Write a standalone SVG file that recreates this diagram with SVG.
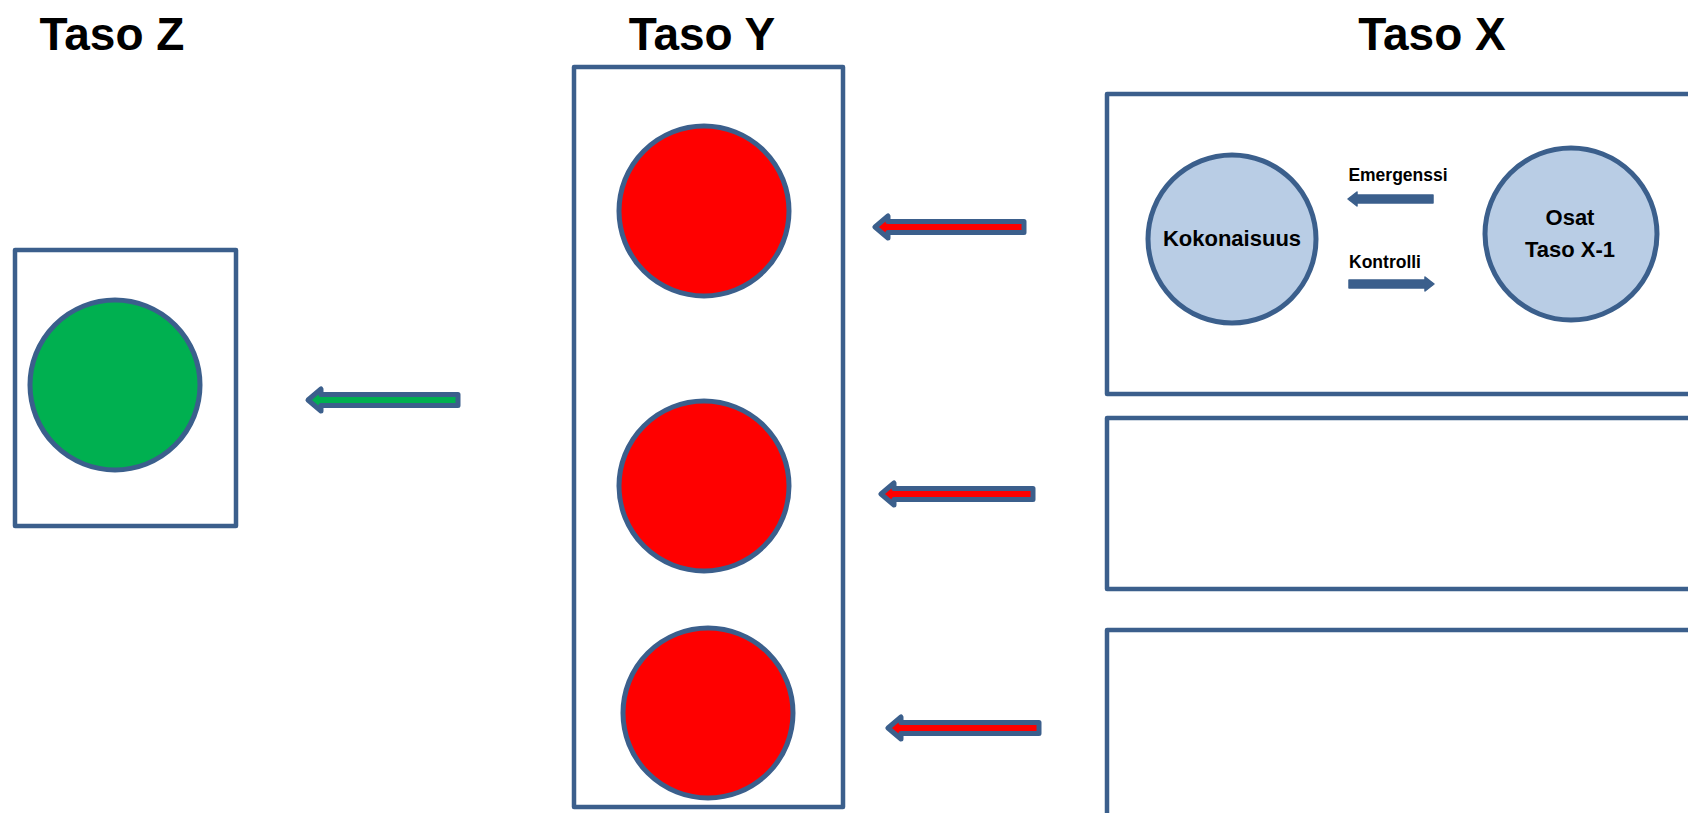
<svg xmlns="http://www.w3.org/2000/svg" width="1688" height="813" viewBox="0 0 1688 813">
<style>
.frame{fill:#fff;stroke:#3B5F8C;stroke-width:4.5;stroke-linejoin:round}
.title{font-family:"Liberation Sans",Arial,sans-serif;font-weight:bold;font-size:46px;fill:#000;text-anchor:middle}
.lbl{font-family:"Liberation Sans",Arial,sans-serif;font-weight:bold;fill:#000;text-anchor:middle}
.red{fill:#FF0000;stroke:#3B5F8C;stroke-width:5}
.green{fill:#00B050;stroke:#3B5F8C;stroke-width:5}
.light{fill:#B9CDE5;stroke:#3B5F8C;stroke-width:5}
.barR{fill:#FF0000;stroke:#3B5F8C;stroke-width:5;stroke-linejoin:round}
.barG{fill:#00B050;stroke:#3B5F8C;stroke-width:5;stroke-linejoin:round}
.small{fill:#3B5F8C;stroke:#3B5F8C;stroke-width:1.5;stroke-linejoin:round}
</style>
<rect width="1688" height="813" fill="#fff"/>
<text class="title" x="112" y="50">Taso Z</text>
<text class="title" x="702" y="50">Taso Y</text>
<text class="title" x="1432" y="50">Taso X</text>

<g id="tasoZ">
<rect class="frame" x="15" y="250" width="221" height="276"/>
<circle class="green" cx="115" cy="385" r="85"/>
</g>

<g id="tasoY">
<rect class="frame" x="574" y="67" width="269" height="740"/>
<circle id="y1" class="red" cx="704" cy="211" r="85"/>
<circle id="y2" class="red" cx="704" cy="486" r="85"/>
<circle id="y3" class="red" cx="708" cy="713" r="85"/>
</g>

<g id="tasoX1">
<rect class="frame" x="1107" y="94" width="700" height="300"/>
<g id="kokonaisuus">
<circle class="light" cx="1232" cy="239" r="84"/>
<text class="lbl" x="1232" y="246" font-size="22">Kokonaisuus</text>
</g>
<g id="osat">
<circle class="light" cx="1571" cy="234" r="86"/>
<text class="lbl" x="1570" y="225" font-size="22">Osat</text>
<text class="lbl" x="1570" y="257" font-size="22">Taso X-1</text>
</g>
<text class="lbl" x="1398" y="181" font-size="17.5">Emergenssi</text>
<text class="lbl" x="1385" y="268" font-size="17.5">Kontrolli</text>
</g>
<g id="tasoX2"><rect class="frame" x="1107" y="418" width="700" height="171"/></g>
<g id="tasoX3"><rect class="frame" x="1107" y="630" width="700" height="220"/></g>

<g id="connectors">
<path class="barR" d="M875,227 L888,216 L888,221.5 L1024,221.5 L1024,232.5 L888,232.5 L888,238 Z"/>
<path class="barR" d="M881,494 L894,483 L894,488.5 L1033,488.5 L1033,499.5 L894,499.5 L894,505 Z"/>
<path class="barR" d="M888,728 L901,717 L901,722.5 L1039,722.5 L1039,733.5 L901,733.5 L901,739 Z"/>
<path class="barG" d="M308,400 L321,389 L321,394.5 L458,394.5 L458,405.5 L321,405.5 L321,411 Z"/>
<path class="small" d="M1348,199 L1357,192 L1357,195 L1433,195 L1433,203 L1357,203 L1357,206 Z"/>
<path class="small" d="M1434,284 L1425,277 L1425,280 L1349,280 L1349,288 L1425,288 L1425,291 Z"/>
</g>
</svg>
